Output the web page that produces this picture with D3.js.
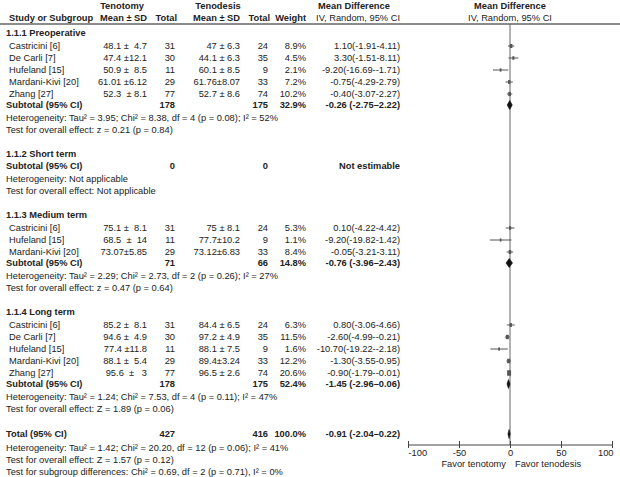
<!DOCTYPE html>
<html><head><meta charset="utf-8">
<script src="https://cdn.jsdelivr.net/npm/d3@7"></script>
<style>
html,body{margin:0;padding:0;background:#fff;}
svg text{font-family:"Liberation Sans",Arial,sans-serif;font-size:9.3px;fill:#222;white-space:pre;}
</style></head>
<body><svg id="c" width="620" height="477"></svg>
<script>
// ---------------- data ----------------
const subgroups = ["1.1.1 Preoperative", "1.1.2 Short term", "1.1.3 Medium term", "1.1.4 Long term"];
const studyGroup = [0,0,0,0,0, 2,2,2, 3,3,3,3,3];
const studyNames = ["Castricini [6]","De Carli [7]","Hufeland [15]","Mardani-Kivi [20]","Zhang [27]",
  "Castricini [6]","Hufeland [15]","Mardani-Kivi [20]",
  "Castricini [6]","De Carli [7]","Hufeland [15]","Mardani-Kivi [20]","Zhang [27]"];
const tenotomyMeanSD = ["48.1 ±  4.7","47.4 ±12.1","50.9 ±  8.5","61.01 ±6.12","52.3  ± 8.1",
  "75.1 ±  8.1","68.5  ±  14","73.07±5.85",
  "85.2 ±  8.1","94.6 ±  4.9","77.4 ±11.8","88.1 ±  5.4","95.6  ±   3"];
const tenotomyN = [31,30,11,29,77, 31,11,29, 31,30,11,29,77];
const tenodesisMeanSD = ["47 ± 6.3","44.1 ± 6.3","60.1 ± 8.5","61.76±8.07","52.7 ± 8.6",
  "75 ± 8.1","77.7±10.2","73.12±6.83",
  "84.4 ± 6.5","97.2 ± 4.9","88.1 ± 7.5","89.4±3.24","96.5 ± 2.6"];
const tenodesisN = [24,35,9,33,74, 24,9,33, 24,35,9,33,74];
const weights = [8.9,4.5,2.1,7.2,10.2, 5.3,1.1,8.4, 6.3,11.5,1.6,12.2,20.6];
const md   = [1.10,3.30,-9.20,-0.75,-0.40, 0.10,-9.20,-0.05, 0.80,-2.60,-10.70,-1.30,-0.90];
const ciLo = [-1.91,-1.51,-16.69,-4.29,-3.07, -4.22,-19.82,-3.21, -3.06,-4.99,-19.22,-3.55,-1.79];
const ciHi = [4.11,8.11,-1.71,2.79,2.27, 4.42,1.42,3.11, 4.66,-0.21,-2.18,0.95,-0.01];

const subN1 = [178,0,71,178];
const subN2 = [175,0,66,175];
const subWeight = ["32.9%","","14.8%","52.4%"];
const subMd   = [-0.26,null,-0.76,-1.45];
const subLo   = [-2.75,null,-3.96,-2.96];
const subHi   = [2.22,null,2.43,0.06];
const subHet = [
  "Heterogeneity: Tau² = 3.95; Chi² = 8.38, df = 4 (p = 0.08); I² = 52%",
  "Heterogeneity: Not applicable",
  "Heterogeneity: Tau² = 2.29; Chi² = 2.73, df = 2 (p = 0.26); I² = 27%",
  "Heterogeneity: Tau² = 1.24; Chi² = 7.53, df = 4 (p = 0.11); I² = 47%"];
const subTest = [
  "Test for overall effect: z = 0.21 (p = 0.84)",
  "Test for overall effect: Not applicable",
  "Test for overall effect: z = 0.47 (p = 0.64)",
  "Test for overall effect: Z = 1.89 (p = 0.06)"];

const totalN = [427, 416];
const totalWeight = "100.0%";
const totalEffect = [-0.91, -2.04, 0.22];
const totalNotes = [
  "Heterogeneity: Tau² = 1.42; Chi² = 20.20, df = 12 (p = 0.06); I² = 41%",
  "Test for overall effect: Z = 1.57 (p = 0.12)",
  "Test for subgroup differences: Chi² = 0.69, df = 2 (p = 0.71), I² = 0%"];

const axisTicks = [-100,-50,0,50,100];
const favorLabels = ["Favor tenotomy","Favor tenodesis"];

// ---------------- layout ----------------
const svg = d3.select("#c");
const x = d3.scaleLinear().domain([-100,100]).range([408,612]);
const col = {title:6, study:9, m1:147, n1:175, m2:240, n2:268, w:306, ci:400};
const axisY = 445, topY = 24;
const fmt = v => v.toFixed(2);

function txt(xp, y, s, anchor, bold){
  return svg.append("text").attr("x",xp).attr("y",y).attr("dy","0.35em")
    .attr("text-anchor",anchor||"start").attr("font-weight",bold?"bold":"normal").text(s);
}

// header
txt(122,6,"Tenotomy","middle",true);
txt(218,6,"Tenodesis","middle",true);
txt(354,6,"Mean Difference","middle",true);
txt(510,6,"Mean Difference","middle",true);
txt(col.study,18,"Study or Subgroup","start",true);
txt(col.m1,18,"Mean ± SD","end",true);
txt(col.n1+2,18,"Total","end",true);
txt(col.m2,18,"Mean ± SD","end",true);
txt(col.n2+2,18,"Total","end",true);
txt(col.w,18,"Weight","end",true);
txt(col.ci,18,"IV, Random, 95% CI","end",false);
txt(510,18,"IV, Random, 95% CI","middle",false);
svg.append("line").attr("x1",0).attr("x2",620).attr("y1",topY).attr("y2",topY)
  .attr("stroke","#666").attr("stroke-width",1.5);

// zero line
svg.append("line").attr("x1",x(0)).attr("x2",x(0)).attr("y1",topY).attr("y2",axisY)
  .attr("stroke","#666").attr("stroke-width",1);

function diamond(y, m, lo, hi){
  const h = 4.5;
  svg.append("path").attr("d",`M${x(lo)},${y}L${x(m)},${y-h}L${x(hi)},${y}L${x(m)},${y+h}Z`)
    .attr("fill","#111").attr("stroke","#111").attr("stroke-width",0.6);
}

let cy = 33;
subgroups.forEach((g,gi)=>{
  txt(col.title,cy,g,"start",true);
  const idx = studyGroup.map((v,i)=>v===gi?i:-1).filter(i=>i>=0);
  cy += (idx.length? 13 : 12);
  idx.forEach((i,k)=>{
    txt(col.study,cy,studyNames[i]);
    txt(col.m1,cy,tenotomyMeanSD[i],"end");
    txt(col.n1,cy,tenotomyN[i],"end");
    txt(col.m2,cy,tenodesisMeanSD[i],"end");
    txt(col.n2,cy,tenodesisN[i],"end");
    txt(col.w,cy,weights[i].toFixed(1)+"%","end");
    txt(col.ci,cy,`${fmt(md[i])}(${fmt(ciLo[i])}-${fmt(ciHi[i])})`,"end");
    svg.append("line").attr("x1",x(ciLo[i])).attr("x2",x(ciHi[i])).attr("y1",cy).attr("y2",cy)
      .attr("stroke","#555").attr("stroke-width",1);
    const w = 1.5 + weights[i]*0.12, h = 3 + weights[i]*0.12;
    svg.append("rect").attr("x",x(md[i])-w/2).attr("y",cy-h/2).attr("width",w).attr("height",h)
      .attr("fill","#555");
    if (k < idx.length-1) cy += 12; else cy += 11;
  });
  txt(col.title,cy,"Subtotal (95% CI)","start",true);
  txt(col.n1,cy,subN1[gi],"end",true);
  txt(col.n2,cy,subN2[gi],"end",true);
  txt(col.w,cy,subWeight[gi],"end",true);
  if (subMd[gi]!==null){
    txt(col.ci,cy,`${fmt(subMd[gi])} (${fmt(subLo[gi])}–${fmt(subHi[gi])})`,"end",true);
    diamond(cy, subMd[gi], subLo[gi], subHi[gi]);
  } else {
    txt(col.ci,cy,"Not estimable","end",true);
  }
  cy += 13;
  txt(col.title,cy,subHet[gi]);
  cy += 12;
  txt(col.title,cy,subTest[gi]);
  cy += (gi<subgroups.length-1 ? 24 : 25);
});

// total
txt(col.title,cy,"Total (95% CI)","start",true);
txt(col.n1,cy,totalN[0],"end",true);
txt(col.n2,cy,totalN[1],"end",true);
txt(col.w,cy,totalWeight,"end",true);
txt(col.ci,cy,`${fmt(totalEffect[0])} (${fmt(totalEffect[1])}–${fmt(totalEffect[2])})`,"end",true);
diamond(cy,totalEffect[0],totalEffect[1],totalEffect[2]);
cy += 14;
totalNotes.forEach((s,i)=>{ txt(col.title,cy,s); cy += 12; });

// axis
const ax = svg.append("g").attr("transform",`translate(0,${axisY})`)
  .call(d3.axisBottom(x).tickValues(axisTicks).tickSize(3).tickFormat(d=>String(d)));
ax.select(".domain").attr("stroke","#444").attr("d",`M${x(-100)},0H${x(100)}`);
ax.selectAll(".tick line").attr("stroke","#444").attr("y1",-4).attr("y2",3);
ax.selectAll(".tick text").attr("y",4).attr("dy","0.71em").style("font-size","9.3px").attr("fill","#333");
ax.selectAll(".tick text").filter(d=>d===-100).attr("text-anchor","start").attr("x",0);
ax.selectAll(".tick text").filter(d=>d===100).attr("text-anchor","end").attr("x",1);
txt(506,464,favorLabels[0],"end");
txt(515,464,favorLabels[1],"start");
</script></body></html>
